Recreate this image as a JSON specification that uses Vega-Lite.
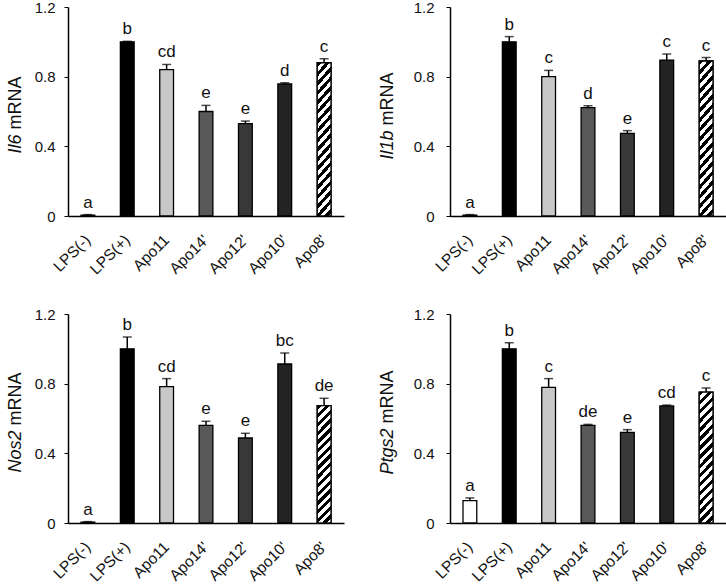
{
  "$schema": "https://vega.github.io/schema/vega-lite/v6.json",
  "background": "white",
  "padding": {"left": 6, "top": 0, "right": 0, "bottom": 0},
  "config": {
    "font": "Liberation Sans",
    "view": {"stroke": null},
    "axis": {"domainColor": "#000", "domainWidth": 1.5, "tickColor": "#000", "labelColor": "#111", "titleColor": "#111", "labelFont": "Liberation Sans", "titleFont": "Liberation Sans", "grid": false}
  },
  "data": {
    "values": [
      {"gene": "Il6", "group": "LPS(-)", "mean": 0.005, "upper": 0.008, "letter": "a"},
      {"gene": "Il6", "group": "LPS(+)", "mean": 1.0, "upper": 1.003, "letter": "b"},
      {"gene": "Il6", "group": "Apo11", "mean": 0.84, "upper": 0.87, "letter": "cd"},
      {"gene": "Il6", "group": "Apo14'", "mean": 0.6, "upper": 0.635, "letter": "e"},
      {"gene": "Il6", "group": "Apo12'", "mean": 0.53, "upper": 0.545, "letter": "e"},
      {"gene": "Il6", "group": "Apo10'", "mean": 0.758, "upper": 0.765, "letter": "d"},
      {"gene": "Il6", "group": "Apo8'", "mean": 0.88, "upper": 0.903, "letter": "c"},
      {"gene": "Il1b", "group": "LPS(-)", "mean": 0.005, "upper": 0.008, "letter": "a"},
      {"gene": "Il1b", "group": "LPS(+)", "mean": 1.0, "upper": 1.03, "letter": "b"},
      {"gene": "Il1b", "group": "Apo11", "mean": 0.8, "upper": 0.836, "letter": "c"},
      {"gene": "Il1b", "group": "Apo14'", "mean": 0.622, "upper": 0.633, "letter": "d"},
      {"gene": "Il1b", "group": "Apo12'", "mean": 0.474, "upper": 0.49, "letter": "e"},
      {"gene": "Il1b", "group": "Apo10'", "mean": 0.895, "upper": 0.93, "letter": "c"},
      {"gene": "Il1b", "group": "Apo8'", "mean": 0.89, "upper": 0.91, "letter": "c"},
      {"gene": "Nos2", "group": "LPS(-)", "mean": 0.005, "upper": 0.008, "letter": "a"},
      {"gene": "Nos2", "group": "LPS(+)", "mean": 1.0, "upper": 1.068, "letter": "b"},
      {"gene": "Nos2", "group": "Apo11", "mean": 0.783, "upper": 0.829, "letter": "cd"},
      {"gene": "Nos2", "group": "Apo14'", "mean": 0.561, "upper": 0.584, "letter": "e"},
      {"gene": "Nos2", "group": "Apo12'", "mean": 0.488, "upper": 0.515, "letter": "e"},
      {"gene": "Nos2", "group": "Apo10'", "mean": 0.913, "upper": 0.976, "letter": "bc"},
      {"gene": "Nos2", "group": "Apo8'", "mean": 0.674, "upper": 0.716, "letter": "de"},
      {"gene": "Ptgs2", "group": "LPS(-)", "mean": 0.128, "upper": 0.144, "letter": "a"},
      {"gene": "Ptgs2", "group": "LPS(+)", "mean": 1.0, "upper": 1.035, "letter": "b"},
      {"gene": "Ptgs2", "group": "Apo11", "mean": 0.779, "upper": 0.829, "letter": "c"},
      {"gene": "Ptgs2", "group": "Apo14'", "mean": 0.561, "upper": 0.566, "letter": "de"},
      {"gene": "Ptgs2", "group": "Apo12'", "mean": 0.52, "upper": 0.536, "letter": "e"},
      {"gene": "Ptgs2", "group": "Apo10'", "mean": 0.672, "upper": 0.677, "letter": "cd"},
      {"gene": "Ptgs2", "group": "Apo8'", "mean": 0.752, "upper": 0.775, "letter": "c"}
    ]
  },
  "columns": 2,
  "bounds": "flush",
  "spacing": {"row": 98, "column": 106},
  "concat": [
    {
      "width": 276, "height": 209,
      "transform": [{"filter": {"field": "gene", "equal": "Il6"}}],
      "encoding": {
        "x": {"field": "group", "type": "nominal", "sort": null,
          "scale": {"domain": ["LPS(-)", "LPS(+)", "Apo11", "Apo14'", "Apo12'", "Apo10'", "Apo8'"], "paddingInner": 0.65, "paddingOuter": 0.33},
          "axis": {"title": null, "labelAngle": -45, "labelAlign": "right", "labelBaseline": "middle", "labelPadding": 21, "labelFontSize": 15.5, "ticks": false}}
      },
      "layer": [
        {"mark": {"type": "bar", "stroke": "#000", "strokeWidth": 1.3},
          "encoding": {
            "y": {"field": "mean", "type": "quantitative", "stack": null, "scale": {"domain": [0, 1.2], "nice": false},
              "axis": {"title": "mRNA", "values": [0, 0.4, 0.8, 1.2], "format": ".1~f", "tickSize": 4, "labelPadding": 9, "labelFontSize": 15, "titleFontSize": 18, "titleFontWeight": "normal", "titleX": -48, "titleY": 122, "titleAngle": -90, "titleAlign": "left", "titleBaseline": "alphabetic"}},
            "fill": {"field": "group", "type": "nominal", "legend": null,
              "scale": {"domain": ["LPS(-)", "LPS(+)", "Apo11", "Apo14'", "Apo12'", "Apo10'", "Apo8'"], "range": ["#ffffff", "#000000", "#c8c8c8", "#595959", "#383838", "#232323", "#ffffff"]}}
          }},
        {"transform": [{"filter": {"field": "group", "equal": "Apo8'"}}],
          "mark": {"type": "bar", "stroke": "#000", "strokeWidth": 1.3,
            "fill": {"gradient": "linear", "x1": 0, "y1": 0, "x2": 0.11, "y2": 1.1,
              "stops": [
                {"offset": 0, "color": "#000"},
                {"offset": 0.0278, "color": "#000"}, {"offset": 0.0278, "color": "#fff"},
                {"offset": 0.0556, "color": "#fff"}, {"offset": 0.0556, "color": "#000"},
                {"offset": 0.0833, "color": "#000"}, {"offset": 0.0833, "color": "#fff"},
                {"offset": 0.1111, "color": "#fff"}, {"offset": 0.1111, "color": "#000"},
                {"offset": 0.1389, "color": "#000"}, {"offset": 0.1389, "color": "#fff"},
                {"offset": 0.1667, "color": "#fff"}, {"offset": 0.1667, "color": "#000"},
                {"offset": 0.1944, "color": "#000"}, {"offset": 0.1944, "color": "#fff"},
                {"offset": 0.2222, "color": "#fff"}, {"offset": 0.2222, "color": "#000"},
                {"offset": 0.25, "color": "#000"}, {"offset": 0.25, "color": "#fff"},
                {"offset": 0.2778, "color": "#fff"}, {"offset": 0.2778, "color": "#000"},
                {"offset": 0.3056, "color": "#000"}, {"offset": 0.3056, "color": "#fff"},
                {"offset": 0.3333, "color": "#fff"}, {"offset": 0.3333, "color": "#000"},
                {"offset": 0.3611, "color": "#000"}, {"offset": 0.3611, "color": "#fff"},
                {"offset": 0.3889, "color": "#fff"}, {"offset": 0.3889, "color": "#000"},
                {"offset": 0.4167, "color": "#000"}, {"offset": 0.4167, "color": "#fff"},
                {"offset": 0.4444, "color": "#fff"}, {"offset": 0.4444, "color": "#000"},
                {"offset": 0.4722, "color": "#000"}, {"offset": 0.4722, "color": "#fff"},
                {"offset": 0.5, "color": "#fff"}, {"offset": 0.5, "color": "#000"},
                {"offset": 0.5278, "color": "#000"}, {"offset": 0.5278, "color": "#fff"},
                {"offset": 0.5556, "color": "#fff"}, {"offset": 0.5556, "color": "#000"},
                {"offset": 0.5833, "color": "#000"}, {"offset": 0.5833, "color": "#fff"},
                {"offset": 0.6111, "color": "#fff"}, {"offset": 0.6111, "color": "#000"},
                {"offset": 0.6389, "color": "#000"}, {"offset": 0.6389, "color": "#fff"},
                {"offset": 0.6667, "color": "#fff"}, {"offset": 0.6667, "color": "#000"},
                {"offset": 0.6944, "color": "#000"}, {"offset": 0.6944, "color": "#fff"},
                {"offset": 0.7222, "color": "#fff"}, {"offset": 0.7222, "color": "#000"},
                {"offset": 0.75, "color": "#000"}, {"offset": 0.75, "color": "#fff"},
                {"offset": 0.7778, "color": "#fff"}, {"offset": 0.7778, "color": "#000"},
                {"offset": 0.8056, "color": "#000"}, {"offset": 0.8056, "color": "#fff"},
                {"offset": 0.8333, "color": "#fff"}, {"offset": 0.8333, "color": "#000"},
                {"offset": 0.8611, "color": "#000"}, {"offset": 0.8611, "color": "#fff"},
                {"offset": 0.8889, "color": "#fff"}, {"offset": 0.8889, "color": "#000"},
                {"offset": 0.9167, "color": "#000"}, {"offset": 0.9167, "color": "#fff"},
                {"offset": 0.9444, "color": "#fff"}, {"offset": 0.9444, "color": "#000"},
                {"offset": 0.9722, "color": "#000"}, {"offset": 0.9722, "color": "#fff"},
                {"offset": 1, "color": "#fff"}
              ]}},
          "encoding": {"y": {"field": "mean", "type": "quantitative", "stack": null, "scale": {"domain": [0, 1.2], "nice": false}, "axis": null}}},
        {"mark": {"type": "rule", "color": "#000", "strokeWidth": 1.5},
          "encoding": {"y": {"field": "mean", "type": "quantitative", "scale": {"domain": [0, 1.2], "nice": false}, "axis": null}, "y2": {"field": "upper"}}},
        {"mark": {"type": "tick", "color": "#000", "thickness": 1.5, "size": 9},
          "encoding": {"y": {"field": "upper", "type": "quantitative", "scale": {"domain": [0, 1.2], "nice": false}, "axis": null}}},
        {"mark": {"type": "text", "fontSize": 17, "dy": -7, "baseline": "alphabetic", "color": "#111"},
          "encoding": {
            "y": {"field": "upper", "type": "quantitative", "scale": {"domain": [0, 1.2], "nice": false},
              "axis": {"orient": "left", "title": "Il6", "titleFontStyle": "italic", "titleFontSize": 18, "titleFontWeight": "normal", "titleX": -48, "titleY": 127, "titleAngle": -90, "titleAlign": "right", "titleBaseline": "alphabetic", "labels": false, "ticks": false, "domain": false}},
            "text": {"field": "letter"}
          }}
      ],
      "resolve": {"axis": {"y": "independent"}}
    },
    {
      "width": 276, "height": 209,
      "transform": [{"filter": {"field": "gene", "equal": "Il1b"}}],
      "encoding": {
        "x": {"field": "group", "type": "nominal", "sort": null,
          "scale": {"domain": ["LPS(-)", "LPS(+)", "Apo11", "Apo14'", "Apo12'", "Apo10'", "Apo8'"], "paddingInner": 0.65, "paddingOuter": 0.33},
          "axis": {"title": null, "labelAngle": -45, "labelAlign": "right", "labelBaseline": "middle", "labelPadding": 21, "labelFontSize": 15.5, "ticks": false}}
      },
      "layer": [
        {"mark": {"type": "bar", "stroke": "#000", "strokeWidth": 1.3},
          "encoding": {
            "y": {"field": "mean", "type": "quantitative", "stack": null, "scale": {"domain": [0, 1.2], "nice": false},
              "axis": {"title": "mRNA", "values": [0, 0.4, 0.8, 1.2], "format": ".1~f", "tickSize": 4, "labelPadding": 12, "labelFontSize": 15, "titleFontSize": 18, "titleFontWeight": "normal", "titleX": -58, "titleY": 118, "titleAngle": -90, "titleAlign": "left", "titleBaseline": "alphabetic"}},
            "fill": {"field": "group", "type": "nominal", "legend": null,
              "scale": {"domain": ["LPS(-)", "LPS(+)", "Apo11", "Apo14'", "Apo12'", "Apo10'", "Apo8'"], "range": ["#ffffff", "#000000", "#c8c8c8", "#595959", "#383838", "#232323", "#ffffff"]}}
          }},
        {"transform": [{"filter": {"field": "group", "equal": "Apo8'"}}],
          "mark": {"type": "bar", "stroke": "#000", "strokeWidth": 1.3,
            "fill": {"gradient": "linear", "x1": 0, "y1": 0, "x2": 0.11, "y2": 1.1,
              "stops": [
                {"offset": 0, "color": "#000"},
                {"offset": 0.0278, "color": "#000"}, {"offset": 0.0278, "color": "#fff"},
                {"offset": 0.0556, "color": "#fff"}, {"offset": 0.0556, "color": "#000"},
                {"offset": 0.0833, "color": "#000"}, {"offset": 0.0833, "color": "#fff"},
                {"offset": 0.1111, "color": "#fff"}, {"offset": 0.1111, "color": "#000"},
                {"offset": 0.1389, "color": "#000"}, {"offset": 0.1389, "color": "#fff"},
                {"offset": 0.1667, "color": "#fff"}, {"offset": 0.1667, "color": "#000"},
                {"offset": 0.1944, "color": "#000"}, {"offset": 0.1944, "color": "#fff"},
                {"offset": 0.2222, "color": "#fff"}, {"offset": 0.2222, "color": "#000"},
                {"offset": 0.25, "color": "#000"}, {"offset": 0.25, "color": "#fff"},
                {"offset": 0.2778, "color": "#fff"}, {"offset": 0.2778, "color": "#000"},
                {"offset": 0.3056, "color": "#000"}, {"offset": 0.3056, "color": "#fff"},
                {"offset": 0.3333, "color": "#fff"}, {"offset": 0.3333, "color": "#000"},
                {"offset": 0.3611, "color": "#000"}, {"offset": 0.3611, "color": "#fff"},
                {"offset": 0.3889, "color": "#fff"}, {"offset": 0.3889, "color": "#000"},
                {"offset": 0.4167, "color": "#000"}, {"offset": 0.4167, "color": "#fff"},
                {"offset": 0.4444, "color": "#fff"}, {"offset": 0.4444, "color": "#000"},
                {"offset": 0.4722, "color": "#000"}, {"offset": 0.4722, "color": "#fff"},
                {"offset": 0.5, "color": "#fff"}, {"offset": 0.5, "color": "#000"},
                {"offset": 0.5278, "color": "#000"}, {"offset": 0.5278, "color": "#fff"},
                {"offset": 0.5556, "color": "#fff"}, {"offset": 0.5556, "color": "#000"},
                {"offset": 0.5833, "color": "#000"}, {"offset": 0.5833, "color": "#fff"},
                {"offset": 0.6111, "color": "#fff"}, {"offset": 0.6111, "color": "#000"},
                {"offset": 0.6389, "color": "#000"}, {"offset": 0.6389, "color": "#fff"},
                {"offset": 0.6667, "color": "#fff"}, {"offset": 0.6667, "color": "#000"},
                {"offset": 0.6944, "color": "#000"}, {"offset": 0.6944, "color": "#fff"},
                {"offset": 0.7222, "color": "#fff"}, {"offset": 0.7222, "color": "#000"},
                {"offset": 0.75, "color": "#000"}, {"offset": 0.75, "color": "#fff"},
                {"offset": 0.7778, "color": "#fff"}, {"offset": 0.7778, "color": "#000"},
                {"offset": 0.8056, "color": "#000"}, {"offset": 0.8056, "color": "#fff"},
                {"offset": 0.8333, "color": "#fff"}, {"offset": 0.8333, "color": "#000"},
                {"offset": 0.8611, "color": "#000"}, {"offset": 0.8611, "color": "#fff"},
                {"offset": 0.8889, "color": "#fff"}, {"offset": 0.8889, "color": "#000"},
                {"offset": 0.9167, "color": "#000"}, {"offset": 0.9167, "color": "#fff"},
                {"offset": 0.9444, "color": "#fff"}, {"offset": 0.9444, "color": "#000"},
                {"offset": 0.9722, "color": "#000"}, {"offset": 0.9722, "color": "#fff"},
                {"offset": 1, "color": "#fff"}
              ]}},
          "encoding": {"y": {"field": "mean", "type": "quantitative", "stack": null, "scale": {"domain": [0, 1.2], "nice": false}, "axis": null}}},
        {"mark": {"type": "rule", "color": "#000", "strokeWidth": 1.5},
          "encoding": {"y": {"field": "mean", "type": "quantitative", "scale": {"domain": [0, 1.2], "nice": false}, "axis": null}, "y2": {"field": "upper"}}},
        {"mark": {"type": "tick", "color": "#000", "thickness": 1.5, "size": 9},
          "encoding": {"y": {"field": "upper", "type": "quantitative", "scale": {"domain": [0, 1.2], "nice": false}, "axis": null}}},
        {"mark": {"type": "text", "fontSize": 17, "dy": -7, "baseline": "alphabetic", "color": "#111"},
          "encoding": {
            "y": {"field": "upper", "type": "quantitative", "scale": {"domain": [0, 1.2], "nice": false},
              "axis": {"orient": "left", "title": "Il1b", "titleFontStyle": "italic", "titleFontSize": 18, "titleFontWeight": "normal", "titleX": -58, "titleY": 123, "titleAngle": -90, "titleAlign": "right", "titleBaseline": "alphabetic", "labels": false, "ticks": false, "domain": false}},
            "text": {"field": "letter"}
          }}
      ],
      "resolve": {"axis": {"y": "independent"}}
    },
    {
      "width": 276, "height": 209,
      "transform": [{"filter": {"field": "gene", "equal": "Nos2"}}],
      "encoding": {
        "x": {"field": "group", "type": "nominal", "sort": null,
          "scale": {"domain": ["LPS(-)", "LPS(+)", "Apo11", "Apo14'", "Apo12'", "Apo10'", "Apo8'"], "paddingInner": 0.65, "paddingOuter": 0.33},
          "axis": {"title": null, "labelAngle": -45, "labelAlign": "right", "labelBaseline": "middle", "labelPadding": 21, "labelFontSize": 15.5, "ticks": false}}
      },
      "layer": [
        {"mark": {"type": "bar", "stroke": "#000", "strokeWidth": 1.3},
          "encoding": {
            "y": {"field": "mean", "type": "quantitative", "stack": null, "scale": {"domain": [0, 1.2], "nice": false},
              "axis": {"title": "mRNA", "values": [0, 0.4, 0.8, 1.2], "format": ".1~f", "tickSize": 4, "labelPadding": 9, "labelFontSize": 15, "titleFontSize": 18, "titleFontWeight": "normal", "titleX": -48, "titleY": 111, "titleAngle": -90, "titleAlign": "left", "titleBaseline": "alphabetic"}},
            "fill": {"field": "group", "type": "nominal", "legend": null,
              "scale": {"domain": ["LPS(-)", "LPS(+)", "Apo11", "Apo14'", "Apo12'", "Apo10'", "Apo8'"], "range": ["#ffffff", "#000000", "#c8c8c8", "#595959", "#383838", "#232323", "#ffffff"]}}
          }},
        {"transform": [{"filter": {"field": "group", "equal": "Apo8'"}}],
          "mark": {"type": "bar", "stroke": "#000", "strokeWidth": 1.3,
            "fill": {"gradient": "linear", "x1": 0, "y1": 0, "x2": 0.13, "y2": 1.1,
              "stops": [
                {"offset": 0, "color": "#000"},
                {"offset": 0.0333, "color": "#000"}, {"offset": 0.0333, "color": "#fff"},
                {"offset": 0.0667, "color": "#fff"}, {"offset": 0.0667, "color": "#000"},
                {"offset": 0.1, "color": "#000"}, {"offset": 0.1, "color": "#fff"},
                {"offset": 0.1333, "color": "#fff"}, {"offset": 0.1333, "color": "#000"},
                {"offset": 0.1667, "color": "#000"}, {"offset": 0.1667, "color": "#fff"},
                {"offset": 0.2, "color": "#fff"}, {"offset": 0.2, "color": "#000"},
                {"offset": 0.2333, "color": "#000"}, {"offset": 0.2333, "color": "#fff"},
                {"offset": 0.2667, "color": "#fff"}, {"offset": 0.2667, "color": "#000"},
                {"offset": 0.3, "color": "#000"}, {"offset": 0.3, "color": "#fff"},
                {"offset": 0.3333, "color": "#fff"}, {"offset": 0.3333, "color": "#000"},
                {"offset": 0.3667, "color": "#000"}, {"offset": 0.3667, "color": "#fff"},
                {"offset": 0.4, "color": "#fff"}, {"offset": 0.4, "color": "#000"},
                {"offset": 0.4333, "color": "#000"}, {"offset": 0.4333, "color": "#fff"},
                {"offset": 0.4667, "color": "#fff"}, {"offset": 0.4667, "color": "#000"},
                {"offset": 0.5, "color": "#000"}, {"offset": 0.5, "color": "#fff"},
                {"offset": 0.5333, "color": "#fff"}, {"offset": 0.5333, "color": "#000"},
                {"offset": 0.5667, "color": "#000"}, {"offset": 0.5667, "color": "#fff"},
                {"offset": 0.6, "color": "#fff"}, {"offset": 0.6, "color": "#000"},
                {"offset": 0.6333, "color": "#000"}, {"offset": 0.6333, "color": "#fff"},
                {"offset": 0.6667, "color": "#fff"}, {"offset": 0.6667, "color": "#000"},
                {"offset": 0.7, "color": "#000"}, {"offset": 0.7, "color": "#fff"},
                {"offset": 0.7333, "color": "#fff"}, {"offset": 0.7333, "color": "#000"},
                {"offset": 0.7667, "color": "#000"}, {"offset": 0.7667, "color": "#fff"},
                {"offset": 0.8, "color": "#fff"}, {"offset": 0.8, "color": "#000"},
                {"offset": 0.8333, "color": "#000"}, {"offset": 0.8333, "color": "#fff"},
                {"offset": 0.8667, "color": "#fff"}, {"offset": 0.8667, "color": "#000"},
                {"offset": 0.9, "color": "#000"}, {"offset": 0.9, "color": "#fff"},
                {"offset": 0.9333, "color": "#fff"}, {"offset": 0.9333, "color": "#000"},
                {"offset": 0.9667, "color": "#000"}, {"offset": 0.9667, "color": "#fff"},
                {"offset": 1, "color": "#fff"}
              ]}},
          "encoding": {"y": {"field": "mean", "type": "quantitative", "stack": null, "scale": {"domain": [0, 1.2], "nice": false}, "axis": null}}},
        {"mark": {"type": "rule", "color": "#000", "strokeWidth": 1.5},
          "encoding": {"y": {"field": "mean", "type": "quantitative", "scale": {"domain": [0, 1.2], "nice": false}, "axis": null}, "y2": {"field": "upper"}}},
        {"mark": {"type": "tick", "color": "#000", "thickness": 1.5, "size": 9},
          "encoding": {"y": {"field": "upper", "type": "quantitative", "scale": {"domain": [0, 1.2], "nice": false}, "axis": null}}},
        {"mark": {"type": "text", "fontSize": 17, "dy": -7, "baseline": "alphabetic", "color": "#111"},
          "encoding": {
            "y": {"field": "upper", "type": "quantitative", "scale": {"domain": [0, 1.2], "nice": false},
              "axis": {"orient": "left", "title": "Nos2", "titleFontStyle": "italic", "titleFontSize": 18, "titleFontWeight": "normal", "titleX": -48, "titleY": 116, "titleAngle": -90, "titleAlign": "right", "titleBaseline": "alphabetic", "labels": false, "ticks": false, "domain": false}},
            "text": {"field": "letter"}
          }}
      ],
      "resolve": {"axis": {"y": "independent"}}
    },
    {
      "width": 276, "height": 209,
      "transform": [{"filter": {"field": "gene", "equal": "Ptgs2"}}],
      "encoding": {
        "x": {"field": "group", "type": "nominal", "sort": null,
          "scale": {"domain": ["LPS(-)", "LPS(+)", "Apo11", "Apo14'", "Apo12'", "Apo10'", "Apo8'"], "paddingInner": 0.65, "paddingOuter": 0.33},
          "axis": {"title": null, "labelAngle": -45, "labelAlign": "right", "labelBaseline": "middle", "labelPadding": 21, "labelFontSize": 15.5, "ticks": false}}
      },
      "layer": [
        {"mark": {"type": "bar", "stroke": "#000", "strokeWidth": 1.3},
          "encoding": {
            "y": {"field": "mean", "type": "quantitative", "stack": null, "scale": {"domain": [0, 1.2], "nice": false},
              "axis": {"title": "mRNA", "values": [0, 0.4, 0.8, 1.2], "format": ".1~f", "tickSize": 4, "labelPadding": 12, "labelFontSize": 15, "titleFontSize": 18, "titleFontWeight": "normal", "titleX": -58, "titleY": 109, "titleAngle": -90, "titleAlign": "left", "titleBaseline": "alphabetic"}},
            "fill": {"field": "group", "type": "nominal", "legend": null,
              "scale": {"domain": ["LPS(-)", "LPS(+)", "Apo11", "Apo14'", "Apo12'", "Apo10'", "Apo8'"], "range": ["#ffffff", "#000000", "#c8c8c8", "#595959", "#383838", "#232323", "#ffffff"]}}
          }},
        {"transform": [{"filter": {"field": "group", "equal": "Apo8'"}}],
          "mark": {"type": "bar", "stroke": "#000", "strokeWidth": 1.3,
            "fill": {"gradient": "linear", "x1": 0, "y1": 0, "x2": 0.12, "y2": 1.1,
              "stops": [
                {"offset": 0, "color": "#000"},
                {"offset": 0.0313, "color": "#000"}, {"offset": 0.0313, "color": "#fff"},
                {"offset": 0.0625, "color": "#fff"}, {"offset": 0.0625, "color": "#000"},
                {"offset": 0.0938, "color": "#000"}, {"offset": 0.0938, "color": "#fff"},
                {"offset": 0.125, "color": "#fff"}, {"offset": 0.125, "color": "#000"},
                {"offset": 0.1563, "color": "#000"}, {"offset": 0.1563, "color": "#fff"},
                {"offset": 0.1875, "color": "#fff"}, {"offset": 0.1875, "color": "#000"},
                {"offset": 0.2188, "color": "#000"}, {"offset": 0.2188, "color": "#fff"},
                {"offset": 0.25, "color": "#fff"}, {"offset": 0.25, "color": "#000"},
                {"offset": 0.2813, "color": "#000"}, {"offset": 0.2813, "color": "#fff"},
                {"offset": 0.3125, "color": "#fff"}, {"offset": 0.3125, "color": "#000"},
                {"offset": 0.3438, "color": "#000"}, {"offset": 0.3438, "color": "#fff"},
                {"offset": 0.375, "color": "#fff"}, {"offset": 0.375, "color": "#000"},
                {"offset": 0.4063, "color": "#000"}, {"offset": 0.4063, "color": "#fff"},
                {"offset": 0.4375, "color": "#fff"}, {"offset": 0.4375, "color": "#000"},
                {"offset": 0.4688, "color": "#000"}, {"offset": 0.4688, "color": "#fff"},
                {"offset": 0.5, "color": "#fff"}, {"offset": 0.5, "color": "#000"},
                {"offset": 0.5313, "color": "#000"}, {"offset": 0.5313, "color": "#fff"},
                {"offset": 0.5625, "color": "#fff"}, {"offset": 0.5625, "color": "#000"},
                {"offset": 0.5938, "color": "#000"}, {"offset": 0.5938, "color": "#fff"},
                {"offset": 0.625, "color": "#fff"}, {"offset": 0.625, "color": "#000"},
                {"offset": 0.6563, "color": "#000"}, {"offset": 0.6563, "color": "#fff"},
                {"offset": 0.6875, "color": "#fff"}, {"offset": 0.6875, "color": "#000"},
                {"offset": 0.7188, "color": "#000"}, {"offset": 0.7188, "color": "#fff"},
                {"offset": 0.75, "color": "#fff"}, {"offset": 0.75, "color": "#000"},
                {"offset": 0.7813, "color": "#000"}, {"offset": 0.7813, "color": "#fff"},
                {"offset": 0.8125, "color": "#fff"}, {"offset": 0.8125, "color": "#000"},
                {"offset": 0.8438, "color": "#000"}, {"offset": 0.8438, "color": "#fff"},
                {"offset": 0.875, "color": "#fff"}, {"offset": 0.875, "color": "#000"},
                {"offset": 0.9063, "color": "#000"}, {"offset": 0.9063, "color": "#fff"},
                {"offset": 0.9375, "color": "#fff"}, {"offset": 0.9375, "color": "#000"},
                {"offset": 0.9688, "color": "#000"}, {"offset": 0.9688, "color": "#fff"},
                {"offset": 1, "color": "#fff"}
              ]}},
          "encoding": {"y": {"field": "mean", "type": "quantitative", "stack": null, "scale": {"domain": [0, 1.2], "nice": false}, "axis": null}}},
        {"mark": {"type": "rule", "color": "#000", "strokeWidth": 1.5},
          "encoding": {"y": {"field": "mean", "type": "quantitative", "scale": {"domain": [0, 1.2], "nice": false}, "axis": null}, "y2": {"field": "upper"}}},
        {"mark": {"type": "tick", "color": "#000", "thickness": 1.5, "size": 9},
          "encoding": {"y": {"field": "upper", "type": "quantitative", "scale": {"domain": [0, 1.2], "nice": false}, "axis": null}}},
        {"mark": {"type": "text", "fontSize": 17, "dy": -7, "baseline": "alphabetic", "color": "#111"},
          "encoding": {
            "y": {"field": "upper", "type": "quantitative", "scale": {"domain": [0, 1.2], "nice": false},
              "axis": {"orient": "left", "title": "Ptgs2", "titleFontStyle": "italic", "titleFontSize": 18, "titleFontWeight": "normal", "titleX": -58, "titleY": 114, "titleAngle": -90, "titleAlign": "right", "titleBaseline": "alphabetic", "labels": false, "ticks": false, "domain": false}},
            "text": {"field": "letter"}
          }}
      ],
      "resolve": {"axis": {"y": "independent"}}
    }
  ]
}
